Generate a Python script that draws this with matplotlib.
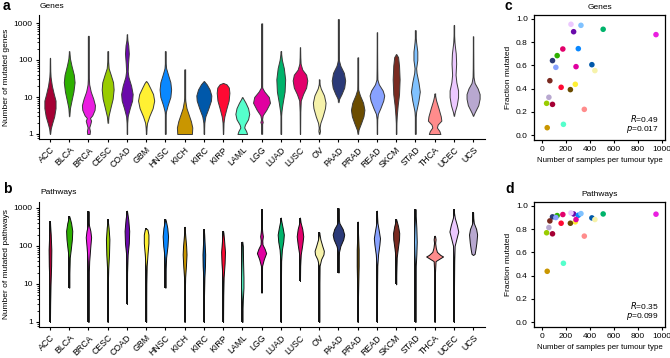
import numpy as np
import matplotlib
matplotlib.use("Agg")
import matplotlib.pyplot as plt

plt.rcParams['font.family'] = ['Liberation Sans', 'DejaVu Sans']
plt.rcParams['font.size'] = 6.0

tumour_types = ["ACC", "BLCA", "BRCA", "CESC", "COAD", "GBM", "HNSC", "KICH", "KIRC",
                "KIRP", "LAML", "LGG", "LUAD", "LUSC", "OV", "PAAD", "PRAD", "READ",
                "SKCM", "STAD", "THCA", "UCEC", "UCS"]
colors = ["#a50034", "#2eb000", "#ea1ee0", "#99cc00", "#6a0aaa", "#fff033", "#0a88ff",
          "#c99600", "#0058aa", "#ff0a33", "#55ffcc", "#e000a0", "#00b36b", "#e2006b",
          "#f6f2aa", "#2b3a78", "#6b4c00", "#88a2ff", "#7a2a20", "#80c2ff", "#ff8c8c",
          "#ecc8ff", "#b8a8d0"]

# Violin outlines: levels (counts) and half-widths (category units)
genes_vals = [
    [1, 1.4, 2, 3, 5, 8, 12, 20, 35, 50, 115],
    [3, 5, 8, 14, 25, 40, 70, 110, 175],
    [1, 1.2, 1.5, 1.9, 2.3, 2.7, 3.2, 4.5, 6, 9, 14, 22, 40, 455],
    [2, 3, 5, 9, 16, 25, 40, 60, 90, 175],
    [1, 2, 3, 5, 8, 12, 20, 35, 50, 80, 150, 250, 350, 495],
    [1, 1.5, 2, 3, 5, 8, 12, 18, 24, 27],
    [1, 3, 4, 6, 10, 16, 25, 40, 60, 90, 175],
    [1, 1.5, 2.2, 3.5, 5, 8, 12, 56],
    [1, 2, 3, 5, 8, 11, 16, 22, 25, 27],
    [1, 2, 3, 5, 8, 13, 18, 22, 24],
    [1, 1.2, 1.5, 1.8, 2.5, 3.5, 5, 7, 9, 10],
    [1, 1.8, 2.1, 2.5, 3.2, 4.5, 7, 10, 14, 18, 30, 980],
    [1, 3, 4, 7, 14, 30, 60, 100, 140, 175],
    [1, 4, 8, 12, 18, 28, 40, 55, 80, 120, 220],
    [1, 1.2, 1.5, 2, 3, 5, 7, 11, 17, 22, 30],
    [7.2, 9, 12, 18, 28, 45, 70, 100, 200, 1290],
    [1, 1.3, 2, 3, 4.5, 7, 11, 16, 30, 118],
    [1, 2.5, 3.5, 5, 8, 11, 15, 22, 30, 60, 560],
    [1, 2, 3, 6, 12, 30, 70, 120, 145],
    [1, 2.5, 4, 8, 14, 25, 45, 60, 100, 170, 300, 450, 645],
    [1, 1.2, 1.5, 1.8, 2.3, 3, 5, 8, 11, 12.5],
    [3.1, 4, 6, 10, 15, 25, 40, 80, 150, 300, 450, 890],
    [3.1, 4, 6, 9, 12, 17, 24, 35, 60, 435],
]
genes_widths = [
    [0, 0.04, 0.12, 0.22, 0.29, 0.29, 0.2, 0.1, 0.03, 0.01, 0],
    [0, 0.04, 0.12, 0.22, 0.28, 0.24, 0.12, 0.04, 0],
    [0.06, 0.08, 0.04, 0.1, 0.14, 0.08, 0.2, 0.32, 0.34, 0.25, 0.12, 0.04, 0.01, 0],
    [0, 0.04, 0.14, 0.26, 0.31, 0.28, 0.16, 0.05, 0.02, 0],
    [0, 0.01, 0.04, 0.15, 0.27, 0.3, 0.22, 0.08, 0.04, 0.06, 0.1, 0.07, 0.02, 0],
    [0, 0.02, 0.05, 0.16, 0.34, 0.42, 0.36, 0.2, 0.08, 0],
    [0, 0.01, 0.03, 0.12, 0.26, 0.3, 0.26, 0.14, 0.04, 0.01, 0],
    [0.38, 0.4, 0.33, 0.2, 0.1, 0.03, 0.01, 0],
    [0, 0.02, 0.08, 0.24, 0.37, 0.39, 0.3, 0.15, 0.06, 0],
    [0, 0.02, 0.07, 0.18, 0.29, 0.33, 0.3, 0.18, 0],
    [0.25, 0.2, 0.1, 0.14, 0.3, 0.36, 0.3, 0.17, 0.05, 0],
    [0, 0.01, 0.06, 0.02, 0.06, 0.25, 0.44, 0.38, 0.15, 0.03, 0.01, 0],
    [0, 0.01, 0.03, 0.1, 0.2, 0.23, 0.16, 0.06, 0.02, 0],
    [0, 0.01, 0.04, 0.16, 0.32, 0.38, 0.32, 0.12, 0.03, 0.01, 0],
    [0, 0.04, 0.02, 0.06, 0.18, 0.3, 0.33, 0.25, 0.08, 0.02, 0],
    [0, 0.04, 0.16, 0.3, 0.35, 0.28, 0.1, 0.02, 0.01, 0],
    [0, 0.04, 0.18, 0.3, 0.35, 0.28, 0.12, 0.02, 0.01, 0],
    [0, 0.01, 0.05, 0.18, 0.33, 0.38, 0.3, 0.1, 0.02, 0.01, 0],
    [0, 0.01, 0.03, 0.08, 0.15, 0.18, 0.15, 0.1, 0],
    [0, 0.01, 0.04, 0.16, 0.23, 0.16, 0.06, 0.04, 0.1, 0.1, 0.04, 0.01, 0],
    [0.3, 0.25, 0.12, 0.16, 0.35, 0.32, 0.2, 0.08, 0.02, 0],
    [0, 0.05, 0.15, 0.22, 0.22, 0.13, 0.09, 0.12, 0.1, 0.03, 0.01, 0],
    [0, 0.1, 0.27, 0.34, 0.34, 0.24, 0.08, 0.02, 0.01, 0],
]

pathways_vals = [
    [1, 3, 10, 30, 80, 200, 350, 455],
    [8, 20, 50, 80, 150, 250, 400, 550, 615],
    [1, 5, 20, 40, 100, 170, 250, 350, 500, 830],
    [1, 10, 25, 60, 150, 300, 450, 510],
    [3, 20, 60, 120, 250, 500, 750, 850],
    [1, 10, 30, 60, 120, 200, 270, 290],
    [8, 20, 50, 100, 180, 300, 450, 510],
    [1, 5, 15, 30, 60, 100, 200, 320],
    [1, 5, 15, 30, 60, 120, 200, 280],
    [1, 5, 15, 35, 70, 150, 220, 250],
    [1, 2, 4, 8, 15, 40, 100, 130],
    [5.9, 10, 30, 45, 65, 85, 110, 140, 180, 230, 350, 940],
    [1, 10, 40, 80, 130, 200, 300, 450, 560],
    [12, 30, 60, 110, 180, 280, 420, 560],
    [1, 10, 30, 45, 60, 75, 100, 150, 200, 230],
    [20, 40, 70, 100, 150, 200, 280, 400, 500, 1000],
    [1, 3, 10, 30, 80, 200, 440],
    [1, 10, 30, 60, 110, 160, 250, 400, 600, 850],
    [9.8, 20, 50, 90, 150, 220, 330, 450, 510],
    [1, 10, 30, 60, 130, 300, 600, 940],
    [1, 5, 20, 40, 48, 53, 58, 70, 90, 120, 150, 175, 187],
    [1, 10, 40, 100, 160, 240, 350, 550, 750, 940],
    [58, 62, 80, 120, 200, 280, 400, 550, 770],
]
pathways_widths = [
    [0, 0.01, 0.03, 0.06, 0.07, 0.04, 0.01, 0],
    [0, 0.01, 0.03, 0.08, 0.14, 0.16, 0.1, 0.03, 0],
    [0, 0.01, 0.02, 0.04, 0.1, 0.14, 0.1, 0.03, 0.01, 0],
    [0, 0.01, 0.03, 0.07, 0.09, 0.05, 0.01, 0],
    [0, 0.01, 0.04, 0.1, 0.12, 0.07, 0.02, 0],
    [0, 0.01, 0.03, 0.07, 0.12, 0.12, 0.07, 0],
    [0, 0.01, 0.04, 0.11, 0.14, 0.1, 0.03, 0],
    [0, 0.01, 0.03, 0.07, 0.1, 0.08, 0.03, 0],
    [0, 0.01, 0.03, 0.06, 0.07, 0.04, 0.02, 0],
    [0, 0.01, 0.03, 0.08, 0.1, 0.05, 0.02, 0],
    [0, 0.01, 0.03, 0.06, 0.06, 0.04, 0.03, 0],
    [0, 0.01, 0.03, 0.12, 0.24, 0.16, 0.05, 0.04, 0.07, 0.04, 0.01, 0],
    [0, 0.01, 0.02, 0.06, 0.13, 0.16, 0.1, 0.03, 0],
    [0, 0.01, 0.04, 0.12, 0.17, 0.12, 0.03, 0],
    [0, 0.01, 0.02, 0.1, 0.22, 0.24, 0.16, 0.06, 0.02, 0],
    [0, 0.01, 0.03, 0.1, 0.25, 0.3, 0.22, 0.05, 0.02, 0],
    [0, 0.01, 0.03, 0.05, 0.05, 0.02, 0],
    [0, 0.01, 0.02, 0.06, 0.13, 0.16, 0.1, 0.03, 0.01, 0],
    [0, 0.01, 0.03, 0.09, 0.15, 0.16, 0.1, 0.03, 0],
    [0, 0.01, 0.02, 0.05, 0.07, 0.05, 0.02, 0],
    [0, 0.01, 0.02, 0.05, 0.3, 0.44, 0.3, 0.12, 0.06, 0.03, 0.05, 0.03, 0],
    [0, 0.01, 0.02, 0.04, 0.14, 0.23, 0.16, 0.05, 0.01, 0],
    [0, 0.08, 0.12, 0.17, 0.21, 0.16, 0.04, 0.01, 0],
]

n_samples = [88, 127, 950, 39, 264, 278, 303, 44, 416, 160, 179, 284, 510, 174, 441,
             88, 237, 116, 66, 325, 353, 242, 58]
frac_genes = [0.264, 0.684, 0.865, 0.273, 0.89, 0.437, 0.744, 0.063, 0.606, 0.411, 0.092,
              0.589, 0.911, 0.741, 0.555, 0.641, 0.391, 0.583, 0.468, 0.945, 0.221,
              0.954, 0.325]
frac_pathways = [0.76, 0.917, 0.929, 0.769, 0.931, 0.863, 0.92, 0.437, 0.897, 0.851,
                 0.506, 0.883, 0.931, 0.926, 0.883, 0.906, 0.851, 0.9, 0.871, 0.934,
                 0.74, 0.94, 0.814]

W, H = 670, 358
fig = plt.figure(figsize=(W / 100, H / 100), dpi=100)


def ax_px(x0, y0, x1, y1):
    return fig.add_axes([x0 / W, 1 - y1 / H, (x1 - x0) / W, (y1 - y0) / H])


def violins(ax, vals_list, widths_list, tail_color, tail_lw, edge):
    for i, (v, w) in enumerate(zip(vals_list, widths_list)):
        v = np.asarray(v, float)
        w = np.asarray(w, float)
        ax.plot([i, i], [v.min(), v.max()], color=tail_color, lw=tail_lw,
                solid_capstyle='butt', zorder=1)
        ax.fill_betweenx(v, i - w, i + w, facecolor=colors[i], edgecolor=edge,
                         linewidth=0.7, zorder=2)
    ax.set_yscale('log')
    ax.set_xlim(-0.57, len(tumour_types) - 1 + 0.62)
    ax.set_xticks(range(len(tumour_types)))
    ax.set_xticklabels(tumour_types, rotation=45, ha='right', rotation_mode='anchor',
                       fontsize=6.3)
    ax.set_yticks([1, 10, 100, 1000])
    ax.set_yticklabels(["1", "10", "100", "1000"])
    for s in ['top', 'right']:
        ax.spines[s].set_visible(False)
    ax.tick_params(axis='both', direction='out', length=2.5, width=0.8, pad=2)
    ax.tick_params(axis='y', which='minor', length=1.6, width=0.6)


# Panel a
axa = ax_px(39, 15, 485, 139)
violins(axa, genes_vals, genes_widths, '#6a6a6a', 1.0, '#3a3a3a')
axa.set_ylim(10 ** (-5 / 37), 10 ** (119 / 37))
axa.set_ylabel("Number of mutated genes", labelpad=3)
fig.text(40 / W, 1 - 7 / H, "Genes", ha='left', va='center')
fig.text(3 / W, 1 - 6 / H, "a", ha='left', va='center', fontsize=10, fontweight='bold')

# Panel b
axb = ax_px(39, 202, 485, 327)
violins(axb, pathways_vals, pathways_widths, '#111111', 1.4, '#111111')
axb.set_ylim(10 ** (-5 / 38), 10 ** (120 / 38))
axb.set_ylabel("Number of mutated pathways", labelpad=3)
fig.text(40 / W, 1 - 193 / H, "Pathways", ha='left', va='center')
fig.text(3 / W, 1 - 189 / H, "b", ha='left', va='center', fontsize=10, fontweight='bold')


def scatter_panel(ax, yvals, title, rtxt, ptxt):
    ax.scatter(n_samples, yvals, s=16, c=colors, edgecolors='none', zorder=3)
    ax.set_xlim(-66, 1025)
    ax.set_ylim(-0.043, 1.034)
    ax.set_xticks([0, 200, 400, 600, 800, 1000])
    ax.set_yticks([0.0, 0.2, 0.4, 0.6, 0.8, 1.0])
    ax.set_yticklabels(["0.0", "0.2", "0.4", "0.6", "0.8", "1.0"])
    ax.tick_params(direction='out', length=2.5, width=0.8, pad=2)
    for s in ax.spines.values():
        s.set_linewidth(0.9)
    ax.set_xlabel("Number of samples per tumour type", labelpad=3, fontsize=5.7)
    ax.set_ylabel("Fraction mutated", labelpad=3)
    ax.set_title(title, fontsize=6.0, pad=4)
    ax.text(0.95, 0.17, rtxt, transform=ax.transAxes, ha='right', va='center')
    ax.text(0.95, 0.08, ptxt, transform=ax.transAxes, ha='right', va='center')


axc = ax_px(534, 15, 665, 140)
scatter_panel(axc, frac_genes, "Genes", r"$\it{R}$=0.49", r"$\it{p}$=0.017")
fig.text(505 / W, 1 - 6 / H, "c", ha='left', va='center', fontsize=10, fontweight='bold')

axd = ax_px(534, 202, 665, 327)
scatter_panel(axd, frac_pathways, "Pathways", r"$\it{R}$=0.35", r"$\it{p}$=0.099")
fig.text(505 / W, 1 - 189 / H, "d", ha='left', va='center', fontsize=10, fontweight='bold')

fig.savefig("out.png", dpi=100)
